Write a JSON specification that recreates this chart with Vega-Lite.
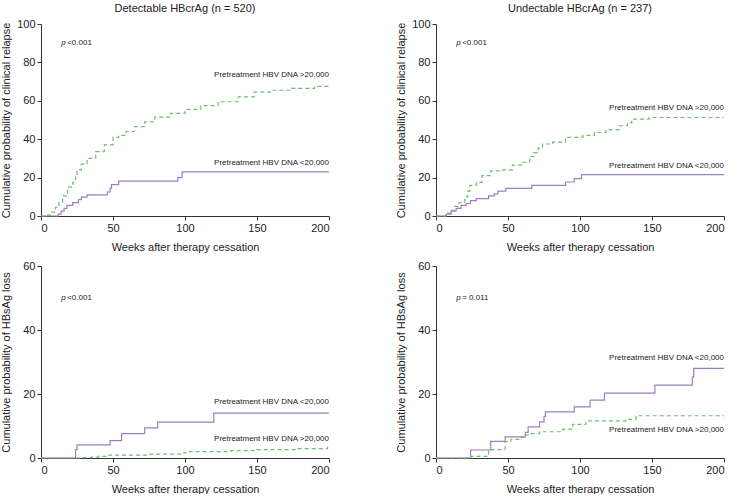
{
  "$schema": "https://vega.github.io/schema/vega-lite/v6.json",
  "padding": {"left": 0, "top": 3, "right": 0, "bottom": 0},
  "background": "white",
  "config": {
    "font": "Liberation Sans",
    "view": {"stroke": null},
    "axis": {"grid": false, "domainColor": "#333", "tickColor": "#333", "labelColor": "#222", "titleColor": "#222", "tickSize": 4, "labelPadding": 2, "labelFontSize": 11, "titleFontSize": 11, "titleFontWeight": "normal", "labelFont": "Liberation Sans", "titleFont": "Liberation Sans", "labelOverlap": false},
    "axisY": {"minExtent": 27, "maxExtent": 27, "titlePadding": 3, "labelOverlap": false},
    "axisX": {"titlePadding": 8},
    "title": {"fontSize": 11, "fontWeight": "normal", "color": "#222", "font": "Liberation Sans", "offset": 4},
    "text": {"font": "Liberation Sans", "fontSize": 8, "color": "#222"}
  },
  "datasets": {
    "km": [
      {"panel": "A", "group": ">20,000", "week": 0, "prob": 0},
      {"panel": "A", "group": ">20,000", "week": 4, "prob": 0.5},
      {"panel": "A", "group": ">20,000", "week": 7, "prob": 2},
      {"panel": "A", "group": ">20,000", "week": 10, "prob": 4.5},
      {"panel": "A", "group": ">20,000", "week": 12.5, "prob": 7},
      {"panel": "A", "group": ">20,000", "week": 15, "prob": 10.5},
      {"panel": "A", "group": ">20,000", "week": 18.5, "prob": 15},
      {"panel": "A", "group": ">20,000", "week": 22, "prob": 17.5},
      {"panel": "A", "group": ">20,000", "week": 24, "prob": 21},
      {"panel": "A", "group": ">20,000", "week": 25, "prob": 24},
      {"panel": "A", "group": ">20,000", "week": 28, "prob": 27},
      {"panel": "A", "group": ">20,000", "week": 32, "prob": 30},
      {"panel": "A", "group": ">20,000", "week": 38, "prob": 33.5},
      {"panel": "A", "group": ">20,000", "week": 44, "prob": 37},
      {"panel": "A", "group": ">20,000", "week": 50, "prob": 41},
      {"panel": "A", "group": ">20,000", "week": 54, "prob": 42},
      {"panel": "A", "group": ">20,000", "week": 59, "prob": 44},
      {"panel": "A", "group": ">20,000", "week": 65, "prob": 46.5},
      {"panel": "A", "group": ">20,000", "week": 72, "prob": 49},
      {"panel": "A", "group": ">20,000", "week": 79, "prob": 51.5},
      {"panel": "A", "group": ">20,000", "week": 90, "prob": 53.5},
      {"panel": "A", "group": ">20,000", "week": 100, "prob": 55.5},
      {"panel": "A", "group": ">20,000", "week": 111, "prob": 57.5},
      {"panel": "A", "group": ">20,000", "week": 123, "prob": 59.5},
      {"panel": "A", "group": ">20,000", "week": 137, "prob": 62},
      {"panel": "A", "group": ">20,000", "week": 148, "prob": 64.5},
      {"panel": "A", "group": ">20,000", "week": 160, "prob": 65.5},
      {"panel": "A", "group": ">20,000", "week": 174, "prob": 66.5},
      {"panel": "A", "group": ">20,000", "week": 190, "prob": 67.5},
      {"panel": "A", "group": ">20,000", "week": 200, "prob": 67.5},
      {"panel": "A", "group": "<20,000", "week": 0, "prob": 0},
      {"panel": "A", "group": "<20,000", "week": 12, "prob": 1},
      {"panel": "A", "group": "<20,000", "week": 14, "prob": 2.5},
      {"panel": "A", "group": "<20,000", "week": 16, "prob": 4},
      {"panel": "A", "group": "<20,000", "week": 18, "prob": 5.5},
      {"panel": "A", "group": "<20,000", "week": 22, "prob": 7},
      {"panel": "A", "group": "<20,000", "week": 26, "prob": 8.5},
      {"panel": "A", "group": "<20,000", "week": 28, "prob": 9.8},
      {"panel": "A", "group": "<20,000", "week": 32, "prob": 11},
      {"panel": "A", "group": "<20,000", "week": 46, "prob": 12.5},
      {"panel": "A", "group": "<20,000", "week": 48, "prob": 14.5},
      {"panel": "A", "group": "<20,000", "week": 49, "prob": 16.3},
      {"panel": "A", "group": "<20,000", "week": 54, "prob": 18.2},
      {"panel": "A", "group": "<20,000", "week": 95, "prob": 20},
      {"panel": "A", "group": "<20,000", "week": 98, "prob": 23},
      {"panel": "A", "group": "<20,000", "week": 200, "prob": 23},
      {"panel": "B", "group": ">20,000", "week": 0, "prob": 0},
      {"panel": "B", "group": ">20,000", "week": 7, "prob": 0.5},
      {"panel": "B", "group": ">20,000", "week": 8, "prob": 1.5},
      {"panel": "B", "group": ">20,000", "week": 10.5, "prob": 3},
      {"panel": "B", "group": ">20,000", "week": 13, "prob": 5},
      {"panel": "B", "group": ">20,000", "week": 16, "prob": 7},
      {"panel": "B", "group": ">20,000", "week": 20, "prob": 10},
      {"panel": "B", "group": ">20,000", "week": 22, "prob": 13},
      {"panel": "B", "group": ">20,000", "week": 23.5, "prob": 16},
      {"panel": "B", "group": ">20,000", "week": 28, "prob": 17.5},
      {"panel": "B", "group": ">20,000", "week": 32, "prob": 21},
      {"panel": "B", "group": ">20,000", "week": 38, "prob": 23.5},
      {"panel": "B", "group": ">20,000", "week": 46, "prob": 24},
      {"panel": "B", "group": ">20,000", "week": 53, "prob": 26.5},
      {"panel": "B", "group": ">20,000", "week": 60, "prob": 28},
      {"panel": "B", "group": ">20,000", "week": 65, "prob": 31},
      {"panel": "B", "group": ">20,000", "week": 68, "prob": 33},
      {"panel": "B", "group": ">20,000", "week": 71, "prob": 35.5},
      {"panel": "B", "group": ">20,000", "week": 74, "prob": 37.5},
      {"panel": "B", "group": ">20,000", "week": 81, "prob": 38.5},
      {"panel": "B", "group": ">20,000", "week": 90, "prob": 41},
      {"panel": "B", "group": ">20,000", "week": 102, "prob": 42},
      {"panel": "B", "group": ">20,000", "week": 110, "prob": 43.5},
      {"panel": "B", "group": ">20,000", "week": 118, "prob": 45},
      {"panel": "B", "group": ">20,000", "week": 127, "prob": 47},
      {"panel": "B", "group": ">20,000", "week": 133, "prob": 48.5},
      {"panel": "B", "group": ">20,000", "week": 136, "prob": 50.5},
      {"panel": "B", "group": ">20,000", "week": 148, "prob": 51.3},
      {"panel": "B", "group": ">20,000", "week": 200, "prob": 51.3},
      {"panel": "B", "group": "<20,000", "week": 0, "prob": 0},
      {"panel": "B", "group": "<20,000", "week": 7, "prob": 1},
      {"panel": "B", "group": "<20,000", "week": 10.5, "prob": 2.5},
      {"panel": "B", "group": "<20,000", "week": 14, "prob": 4},
      {"panel": "B", "group": "<20,000", "week": 17.5, "prob": 5.5},
      {"panel": "B", "group": "<20,000", "week": 21, "prob": 6.5},
      {"panel": "B", "group": "<20,000", "week": 24, "prob": 8},
      {"panel": "B", "group": "<20,000", "week": 28, "prob": 9},
      {"panel": "B", "group": "<20,000", "week": 36.5, "prob": 10.5},
      {"panel": "B", "group": "<20,000", "week": 40.5, "prob": 11.5},
      {"panel": "B", "group": "<20,000", "week": 43, "prob": 13},
      {"panel": "B", "group": "<20,000", "week": 48.5, "prob": 14.4},
      {"panel": "B", "group": "<20,000", "week": 66.5, "prob": 16},
      {"panel": "B", "group": "<20,000", "week": 90, "prob": 17.7},
      {"panel": "B", "group": "<20,000", "week": 96, "prob": 19.5},
      {"panel": "B", "group": "<20,000", "week": 101, "prob": 21.6},
      {"panel": "B", "group": "<20,000", "week": 200, "prob": 21.6},
      {"panel": "C", "group": "<20,000", "week": 0, "prob": 0},
      {"panel": "C", "group": "<20,000", "week": 24, "prob": 2.6},
      {"panel": "C", "group": "<20,000", "week": 25, "prob": 4.1},
      {"panel": "C", "group": "<20,000", "week": 48, "prob": 5.4},
      {"panel": "C", "group": "<20,000", "week": 56, "prob": 7.6},
      {"panel": "C", "group": "<20,000", "week": 72, "prob": 9.4},
      {"panel": "C", "group": "<20,000", "week": 81, "prob": 11.2},
      {"panel": "C", "group": "<20,000", "week": 120, "prob": 14},
      {"panel": "C", "group": "<20,000", "week": 200, "prob": 14},
      {"panel": "C", "group": ">20,000", "week": 0, "prob": 0},
      {"panel": "C", "group": ">20,000", "week": 28, "prob": 0.1},
      {"panel": "C", "group": ">20,000", "week": 35, "prob": 0.3},
      {"panel": "C", "group": ">20,000", "week": 40, "prob": 0.5},
      {"panel": "C", "group": ">20,000", "week": 45, "prob": 0.9},
      {"panel": "C", "group": ">20,000", "week": 74, "prob": 1.2},
      {"panel": "C", "group": ">20,000", "week": 99, "prob": 1.6},
      {"panel": "C", "group": ">20,000", "week": 101, "prob": 2},
      {"panel": "C", "group": ">20,000", "week": 132, "prob": 2.3},
      {"panel": "C", "group": ">20,000", "week": 150, "prob": 2.6},
      {"panel": "C", "group": ">20,000", "week": 178, "prob": 2.9},
      {"panel": "C", "group": ">20,000", "week": 199, "prob": 3.5},
      {"panel": "C", "group": ">20,000", "week": 200, "prob": 3.5},
      {"panel": "D", "group": "<20,000", "week": 0, "prob": 0},
      {"panel": "D", "group": "<20,000", "week": 24, "prob": 2.5},
      {"panel": "D", "group": "<20,000", "week": 38, "prob": 5.2},
      {"panel": "D", "group": "<20,000", "week": 48, "prob": 6.6},
      {"panel": "D", "group": "<20,000", "week": 62, "prob": 8},
      {"panel": "D", "group": "<20,000", "week": 64, "prob": 9.7},
      {"panel": "D", "group": "<20,000", "week": 72, "prob": 11.3},
      {"panel": "D", "group": "<20,000", "week": 75, "prob": 13},
      {"panel": "D", "group": "<20,000", "week": 76, "prob": 14.4},
      {"panel": "D", "group": "<20,000", "week": 96, "prob": 16},
      {"panel": "D", "group": "<20,000", "week": 107, "prob": 18.1},
      {"panel": "D", "group": "<20,000", "week": 117, "prob": 20.3},
      {"panel": "D", "group": "<20,000", "week": 152, "prob": 22.8},
      {"panel": "D", "group": "<20,000", "week": 178, "prob": 25.3},
      {"panel": "D", "group": "<20,000", "week": 179, "prob": 28},
      {"panel": "D", "group": "<20,000", "week": 200, "prob": 28},
      {"panel": "D", "group": ">20,000", "week": 0, "prob": 0},
      {"panel": "D", "group": ">20,000", "week": 24, "prob": 0.5},
      {"panel": "D", "group": ">20,000", "week": 36.5, "prob": 2.6},
      {"panel": "D", "group": ">20,000", "week": 48, "prob": 5.1},
      {"panel": "D", "group": ">20,000", "week": 52, "prob": 5.8},
      {"panel": "D", "group": ">20,000", "week": 58, "prob": 6.4},
      {"panel": "D", "group": ">20,000", "week": 62, "prob": 7.2},
      {"panel": "D", "group": ">20,000", "week": 66, "prob": 7.6},
      {"panel": "D", "group": ">20,000", "week": 72, "prob": 8.2},
      {"panel": "D", "group": ">20,000", "week": 88, "prob": 9},
      {"panel": "D", "group": ">20,000", "week": 95, "prob": 10.5},
      {"panel": "D", "group": ">20,000", "week": 104, "prob": 11.6},
      {"panel": "D", "group": ">20,000", "week": 132, "prob": 12.1},
      {"panel": "D", "group": ">20,000", "week": 139, "prob": 13.2},
      {"panel": "D", "group": ">20,000", "week": 200, "prob": 13.2}
    ],
    "labels": [
      {"panel": "A", "week": 200, "prob": 73.4, "text": "Pretreatment HBV DNA >20,000"},
      {"panel": "A", "week": 200, "prob": 27.8, "text": "Pretreatment HBV DNA <20,000"},
      {"panel": "B", "week": 200, "prob": 56.5, "text": "Pretreatment HBV DNA >20,000"},
      {"panel": "B", "week": 200, "prob": 26.1, "text": "Pretreatment HBV DNA <20,000"},
      {"panel": "C", "week": 200, "prob": 17.5, "text": "Pretreatment HBV DNA <20,000"},
      {"panel": "C", "week": 200, "prob": 6, "text": "Pretreatment HBV DNA >20,000"},
      {"panel": "D", "week": 200, "prob": 31.4, "text": "Pretreatment HBV DNA <20,000"},
      {"panel": "D", "week": 200, "prob": 8.8, "text": "Pretreatment HBV DNA >20,000"}
    ],
    "pvals": [
      {"panel": "A", "week": 14, "prob": 90, "p": "p", "rest": "<0.001"},
      {"panel": "B", "week": 14, "prob": 90, "p": "p", "rest": "<0.001"},
      {"panel": "C", "week": 14, "prob": 50, "p": "p", "rest": "<0.001"},
      {"panel": "D", "week": 14, "prob": 50, "p": "p", "rest": "= 0.011"}
    ]
  },
  "spacing": 8,
  "vconcat": [
    {
      "spacing": 63,
      "hconcat": [
        {
          "width": 288, "height": 192,
          "title": "Detectable HBcrAg (n = 520)",
          "layer": [
            {
              "data": {"name": "km"},
              "transform": [{"filter": "datum.panel === 'A'"}],
              "mark": {"type": "line", "interpolate": "step-after", "strokeWidth": 1.2},
              "encoding": {
                "x": {"field": "week", "type": "quantitative", "scale": {"domain": [0, 200]}, "axis": {"title": "Weeks after therapy cessation", "values": [0, 50, 100, 150, 200], "labelOverlap": false}},
                "y": {"field": "prob", "type": "quantitative", "scale": {"domain": [0, 100]}, "axis": {"title": "Cumulative probability of clinical relapse", "values": [0, 20, 40, 60, 80, 100], "labelOverlap": false, "tickCount": 6}},
                "color": {"field": "group", "type": "nominal", "scale": {"domain": [">20,000", "<20,000"], "range": ["#6cbf6c", "#a07cc3"]}, "legend": null},
                "strokeDash": {"field": "group", "type": "nominal", "scale": {"domain": [">20,000", "<20,000"], "range": [[4, 3], [1, 0]]}, "legend": null}
              }
            },
            {
              "data": {"name": "labels"},
              "transform": [{"filter": "datum.panel === 'A'"}],
              "mark": {"type": "text", "align": "right", "baseline": "middle"},
              "encoding": {"x": {"field": "week", "type": "quantitative"}, "y": {"field": "prob", "type": "quantitative"}, "text": {"field": "text"}}
            },
            {
              "data": {"name": "pvals"},
              "transform": [{"filter": "datum.panel === 'A'"}],
              "mark": {"type": "text", "align": "left", "baseline": "middle", "fontStyle": "italic"},
              "encoding": {"x": {"field": "week", "type": "quantitative"}, "y": {"field": "prob", "type": "quantitative"}, "text": {"field": "p"}}
            },
            {
              "data": {"name": "pvals"},
              "transform": [{"filter": "datum.panel === 'A'"}],
              "mark": {"type": "text", "align": "left", "baseline": "middle", "dx": 6},
              "encoding": {"x": {"field": "week", "type": "quantitative"}, "y": {"field": "prob", "type": "quantitative"}, "text": {"field": "rest"}}
            }
          ]
        },
        {
          "width": 288, "height": 192,
          "title": "Undectable HBcrAg (n = 237)",
          "layer": [
            {
              "data": {"name": "km"},
              "transform": [{"filter": "datum.panel === 'B'"}],
              "mark": {"type": "line", "interpolate": "step-after", "strokeWidth": 1.2},
              "encoding": {
                "x": {"field": "week", "type": "quantitative", "scale": {"domain": [0, 200]}, "axis": {"title": "Weeks after therapy cessation", "values": [0, 50, 100, 150, 200], "labelOverlap": false}},
                "y": {"field": "prob", "type": "quantitative", "scale": {"domain": [0, 100]}, "axis": {"title": "Cumulative probability of clinical relapse", "values": [0, 20, 40, 60, 80, 100], "labelOverlap": false, "tickCount": 6}},
                "color": {"field": "group", "type": "nominal", "scale": {"domain": [">20,000", "<20,000"], "range": ["#6cbf6c", "#a07cc3"]}, "legend": null},
                "strokeDash": {"field": "group", "type": "nominal", "scale": {"domain": [">20,000", "<20,000"], "range": [[4, 3], [1, 0]]}, "legend": null}
              }
            },
            {
              "data": {"name": "labels"},
              "transform": [{"filter": "datum.panel === 'B'"}],
              "mark": {"type": "text", "align": "right", "baseline": "middle"},
              "encoding": {"x": {"field": "week", "type": "quantitative"}, "y": {"field": "prob", "type": "quantitative"}, "text": {"field": "text"}}
            },
            {
              "data": {"name": "pvals"},
              "transform": [{"filter": "datum.panel === 'B'"}],
              "mark": {"type": "text", "align": "left", "baseline": "middle", "fontStyle": "italic"},
              "encoding": {"x": {"field": "week", "type": "quantitative"}, "y": {"field": "prob", "type": "quantitative"}, "text": {"field": "p"}}
            },
            {
              "data": {"name": "pvals"},
              "transform": [{"filter": "datum.panel === 'B'"}],
              "mark": {"type": "text", "align": "left", "baseline": "middle", "dx": 6},
              "encoding": {"x": {"field": "week", "type": "quantitative"}, "y": {"field": "prob", "type": "quantitative"}, "text": {"field": "rest"}}
            }
          ]
        }
      ]
    },
    {
      "spacing": 63,
      "hconcat": [
        {
          "width": 288, "height": 192,
          "layer": [
            {
              "data": {"name": "km"},
              "transform": [{"filter": "datum.panel === 'C'"}],
              "mark": {"type": "line", "interpolate": "step-after", "strokeWidth": 1.2},
              "encoding": {
                "x": {"field": "week", "type": "quantitative", "scale": {"domain": [0, 200]}, "axis": {"title": "Weeks after therapy cessation", "values": [0, 50, 100, 150, 200], "labelOverlap": false}},
                "y": {"field": "prob", "type": "quantitative", "scale": {"domain": [0, 60]}, "axis": {"title": "Cumulative probability of HBsAg loss", "values": [0, 20, 40, 60], "labelOverlap": false}},
                "color": {"field": "group", "type": "nominal", "scale": {"domain": [">20,000", "<20,000"], "range": ["#6cbf6c", "#a07cc3"]}, "legend": null},
                "strokeDash": {"field": "group", "type": "nominal", "scale": {"domain": [">20,000", "<20,000"], "range": [[4, 3], [1, 0]]}, "legend": null}
              }
            },
            {
              "data": {"name": "labels"},
              "transform": [{"filter": "datum.panel === 'C'"}],
              "mark": {"type": "text", "align": "right", "baseline": "middle"},
              "encoding": {"x": {"field": "week", "type": "quantitative"}, "y": {"field": "prob", "type": "quantitative"}, "text": {"field": "text"}}
            },
            {
              "data": {"name": "pvals"},
              "transform": [{"filter": "datum.panel === 'C'"}],
              "mark": {"type": "text", "align": "left", "baseline": "middle", "fontStyle": "italic"},
              "encoding": {"x": {"field": "week", "type": "quantitative"}, "y": {"field": "prob", "type": "quantitative"}, "text": {"field": "p"}}
            },
            {
              "data": {"name": "pvals"},
              "transform": [{"filter": "datum.panel === 'C'"}],
              "mark": {"type": "text", "align": "left", "baseline": "middle", "dx": 6},
              "encoding": {"x": {"field": "week", "type": "quantitative"}, "y": {"field": "prob", "type": "quantitative"}, "text": {"field": "rest"}}
            }
          ]
        },
        {
          "width": 288, "height": 192,
          "layer": [
            {
              "data": {"name": "km"},
              "transform": [{"filter": "datum.panel === 'D'"}],
              "mark": {"type": "line", "interpolate": "step-after", "strokeWidth": 1.2},
              "encoding": {
                "x": {"field": "week", "type": "quantitative", "scale": {"domain": [0, 200]}, "axis": {"title": "Weeks after therapy cessation", "values": [0, 50, 100, 150, 200], "labelOverlap": false}},
                "y": {"field": "prob", "type": "quantitative", "scale": {"domain": [0, 60]}, "axis": {"title": "Cumulative probability of HBsAg loss", "values": [0, 20, 40, 60], "labelOverlap": false}},
                "color": {"field": "group", "type": "nominal", "scale": {"domain": [">20,000", "<20,000"], "range": ["#6cbf6c", "#a07cc3"]}, "legend": null},
                "strokeDash": {"field": "group", "type": "nominal", "scale": {"domain": [">20,000", "<20,000"], "range": [[4, 3], [1, 0]]}, "legend": null}
              }
            },
            {
              "data": {"name": "labels"},
              "transform": [{"filter": "datum.panel === 'D'"}],
              "mark": {"type": "text", "align": "right", "baseline": "middle"},
              "encoding": {"x": {"field": "week", "type": "quantitative"}, "y": {"field": "prob", "type": "quantitative"}, "text": {"field": "text"}}
            },
            {
              "data": {"name": "pvals"},
              "transform": [{"filter": "datum.panel === 'D'"}],
              "mark": {"type": "text", "align": "left", "baseline": "middle", "fontStyle": "italic"},
              "encoding": {"x": {"field": "week", "type": "quantitative"}, "y": {"field": "prob", "type": "quantitative"}, "text": {"field": "p"}}
            },
            {
              "data": {"name": "pvals"},
              "transform": [{"filter": "datum.panel === 'D'"}],
              "mark": {"type": "text", "align": "left", "baseline": "middle", "dx": 6},
              "encoding": {"x": {"field": "week", "type": "quantitative"}, "y": {"field": "prob", "type": "quantitative"}, "text": {"field": "rest"}}
            }
          ]
        }
      ]
    }
  ]
}
